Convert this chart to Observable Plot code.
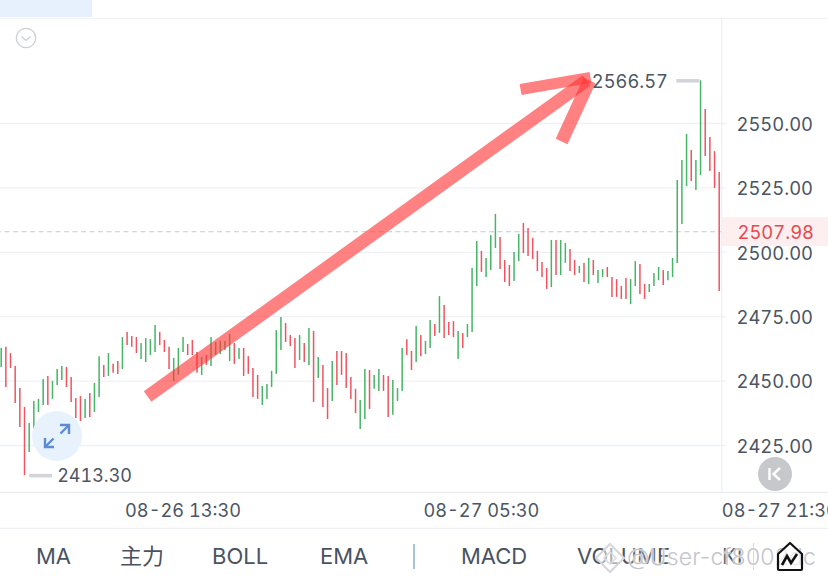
<!DOCTYPE html>
<html><head><meta charset="utf-8">
<script src="https://cdn.jsdelivr.net/npm/d3@7"></script>
<script src="https://cdn.jsdelivr.net/npm/@observablehq/plot@0.6"></script>
<style>
html,body{margin:0;padding:0;background:#fff;width:828px;height:584px;overflow:hidden}
#wrap{position:relative;width:828px;height:584px;overflow:hidden;font-family:Inter,"Noto Sans CJK SC",sans-serif}
#wrap>svg,#chart svg{display:block}
.abs{position:absolute}
.tab{position:absolute;top:542px;font-size:22px;line-height:28px;color:#4a5361;white-space:nowrap}
</style></head><body>
<div id="wrap">
<div id="chart"></div>
<div class="abs" style="left:0;top:0;width:92px;height:17px;background:#e6f1fd"></div>
<svg class="abs" style="left:14px;top:27px" width="24" height="24" viewBox="0 0 24 24"><circle cx="12" cy="11" r="9.7" fill="#fff" stroke="#cdd0d6" stroke-width="1.3"/><path d="M7.5 9.5 L12 13.5 L16.5 9.5" fill="none" stroke="#cdd0d6" stroke-width="1.3"/></svg>
<svg class="abs" style="left:32px;top:410px" width="50" height="52" viewBox="0 0 50 52"><circle cx="25" cy="26" r="25" fill="#e8f2fd"/><path d="M28 15 H37 V24 M37 15 L28.5 23.5 M13 28 V37 H22 M13 37 L21.5 28.5" fill="none" stroke="#5b8bd6" stroke-width="2.4"/></svg>
<svg class="abs" style="left:758px;top:457px" width="34" height="34" viewBox="0 0 34 34"><circle cx="17" cy="17" r="17" fill="#c6c8cc"/><path d="M11.5 11 V23 M22 11 L15.5 17 L22 23" fill="none" stroke="#fff" stroke-width="2.4"/></svg>
<span class="tab" style="left:36px">MA</span>
<span class="tab" style="left:120px;top:540px;font-family:'Noto Sans CJK SC'">主力</span>
<span class="tab" style="left:212px">BOLL</span>
<span class="tab" style="left:320px">EMA</span>
<div class="abs" style="left:413px;top:544px;width:1.5px;height:25px;background:#a9c2df"></div>
<span class="tab" style="left:461px">MACD</span>
<span class="tab" style="left:577px">VOLUME</span>
<span class="tab" style="left:722px">KI</span>
<div class="abs" style="left:753px;top:543px;width:1px;height:27px;background:#d5d8dd"></div>
<svg class="abs" style="left:593px;top:541px" width="34" height="34" viewBox="0 0 34 34"><path d="M17 3 L31 17 L17 31 L3 17 Z" fill="#fff" fill-opacity=".55" stroke="#d6d7da" stroke-width="2"/><path d="M17 11 L23 17 L17 23 L11 17 Z" fill="none" stroke="#dcdde0" stroke-width="1.6"/></svg>
<span class="abs" style="left:627px;top:543px;font-size:23px;line-height:28px;color:#c3c6cb;white-space:nowrap;letter-spacing:.2px;font-weight:300;text-shadow:0 0 2px #fff,0 0 2px #fff">@User-cf8002dc</span>
<svg class="abs" style="left:776px;top:541px" width="28" height="31" viewBox="0 0 28 31"><path d="M14 2 L26 13 V28 Q26 29 25 29 H3 Q2 29 2 28 V13 Z" fill="#fff" fill-opacity=".6" stroke="#111" stroke-width="2.2" stroke-linejoin="round"/><path d="M6 24 L11 15 L15 22 L21 13" fill="none" stroke="#111" stroke-width="2.6"/></svg>
</div>
<script>
const highs = [2462.7,2463.1,2460.7,2455.7,2447.1,2439.8,2433.5,2442.1,2442.9,2450.6,
2451.8,2449.9,2454.5,2455.7,2455.3,2451.4,2443.2,2444.0,2442.9,2445.2,
2449.1,2459.5,2456.1,2460.7,2456.5,2457.6,2466.9,2468.9,2467.3,2466.9,
2464.6,2466.5,2466.1,2471.6,2468.9,2465.8,2463.1,2458.8,2462.7,2466.9,
2464.2,2465.8,2461.1,2459.2,2459.9,2466.9,2465.0,2465.4,2465.4,2468.1,
2464.6,2462.7,2462.7,2459.5,2454.9,2452.2,2447.9,2448.7,2453.8,2469.6,
2474.7,2472.4,2467.7,2466.5,2467.7,2464.6,2470.4,2469.3,2459.2,2456.1,
2447.1,2457.6,2461.5,2461.5,2460.7,2451.4,2446.8,2442.5,2454.5,2454.1,
2452.2,2454.5,2452.2,2451.8,2450.2,2447.1,2462.7,2466.1,2461.5,2471.2,
2467.7,2465.4,2473.5,2472.0,2482.8,2479.3,2472.7,2473.1,2469.3,2468.5,
2472.0,2493.7,2504.2,2500.3,2497.6,2506.5,2514.7,2505.7,2496.8,2494.9,
2499.9,2506.9,2511.2,2509.2,2505.4,2500.3,2496.0,2493.7,2504.6,2504.6,
2504.6,2503.4,2501.1,2496.8,2494.5,2495.7,2497.6,2496.8,2492.9,2493.3,
2494.1,2490.2,2489.4,2486.7,2489.8,2489.4,2496.4,2495.3,2487.5,2487.5,
2491.8,2494.1,2492.9,2492.5,2497.6,2527.9,2535.6,2545.7,2539.5,2535.6,
2566.57,2555.4,2544.6,2539.1,2531.0];
const lows = [2455.3,2447.5,2454.9,2441.3,2432.0,2413.3,2422.3,2431.2,2437.8,2440.5,
2440.5,2442.9,2448.3,2450.2,2447.5,2441.7,2435.5,2434.3,2435.5,2435.9,
2437.8,2443.6,2451.4,2451.8,2453.0,2452.6,2454.5,2463.8,2463.1,2460.7,
2458.4,2457.2,2459.9,2461.1,2463.8,2461.1,2454.5,2449.9,2452.2,2461.1,
2459.9,2459.9,2453.0,2452.2,2456.1,2455.7,2459.9,2460.3,2461.9,2457.6,
2456.5,2458.4,2451.8,2452.6,2443.6,2442.9,2440.5,2442.9,2447.5,2452.6,
2461.9,2465.0,2463.4,2454.9,2458.0,2457.2,2456.1,2441.7,2451.0,2439.8,
2435.1,2442.1,2448.3,2452.2,2447.1,2442.9,2437.4,2431.2,2435.1,2439.0,
2446.8,2446.0,2446.0,2435.9,2436.7,2442.1,2446.0,2459.9,2454.1,2457.2,
2459.5,2460.3,2462.7,2467.3,2468.5,2466.5,2467.7,2466.9,2458.4,2462.7,
2466.9,2468.9,2486.7,2492.2,2490.2,2492.9,2501.5,2493.3,2488.3,2486.7,
2488.7,2496.4,2499.5,2498.4,2497.2,2492.5,2490.2,2485.6,2486.3,2491.0,
2491.0,2495.7,2492.5,2491.0,2491.8,2488.3,2487.5,2491.0,2487.9,2490.2,
2490.2,2482.5,2482.5,2481.7,2481.7,2479.7,2486.7,2483.6,2481.7,2484.4,
2486.7,2489.0,2487.1,2489.0,2490.2,2495.7,2510.8,2525.5,2527.5,2524.0,
2529.8,2537.2,2531.4,2524.8,2484.8];
const dirs = ("grrrrrgggg"+"rgggrrrrgr"+"ggrgrrgrrr"+"ggggrrrggg"+"rrrgrggggg"+
"rgrrrrgggg"+"grrrgrgrgr"+"rgrrrrrggr"+"ggrrgggrrg"+"rggrgrrrgr"+
"gggrgggrrr"+"ggrrrrrrgr"+"ggrrgrgrgg"+"rrrrrggrrg"+"ggrgggggrg"+"grrrr").split("");
const yTicks = [2550,2525,2500,2475,2450,2425];
const xTickIndex = [39,103,167];
const xTickLabels = ["08-26 13:30","08-27 05:30","08-27 21:30"];
const lastPrice = 2507.98;
const highLabel = "2566.57";
const lowLabel = "2413.30";

const bars = highs.map((h,i)=>({i,h,l:lows[i],d:dirs[i]}));
const arrowShaft = [{x:31.4,y:2444.0},{x:125.55,y:2566.7}];
const arrowWingA = [{x:111.4,y:2563.2},{x:126.4,y:2567.9}];
const arrowWingB = [{x:120.2,y:2543.0},{x:126.2,y:2566.7}];
const textColor = "#4b5563", grid = "#eef2f8";
const arrowStyle = w => ({x:"x",y:"y",stroke:"#ff3333",strokeWidth:w,strokeLinecap:"butt",opacity:0.62,curve:"linear"});

const chart = Plot.plot({
  width:828,height:584,
  marginLeft:0,marginTop:0,marginRight:107,marginBottom:92,
  style:{fontFamily:"Inter, sans-serif",background:"#fff",fontSize:"18px"},
  x:{type:"linear",domain:[0,154],range:[0.7,718.7]},
  y:{type:"linear",domain:[2550,2425],range:[123,445]},
  marks:[
    Plot.ruleY(yTicks,{x1:-1,x2:155.6,stroke:grid,strokeWidth:1.3}),
    Plot.ruleY([2590.8],{x1:-1,x2:178,stroke:"#f1f3f6",strokeWidth:1.2}),
    Plot.ruleY([2406.8],{x1:-1,x2:178,stroke:"#e9edf3",strokeWidth:1.2}),
    Plot.ruleY([2392.8],{x1:-1,x2:178,stroke:"#eef0f4",strokeWidth:1.2}),
    Plot.ruleX([154.55],{y1:2590.8,y2:2406.8,stroke:"#e9eef6",strokeWidth:1.2}),
    Plot.rect([0],{x1:154.7,x2:178,y1:2513.4,y2:2502.2,fill:"#fdefef"}),
    Plot.ruleY([lastPrice],{x1:-1,x2:154.55,stroke:"#c5c9d0",strokeWidth:1.2,strokeDasharray:"5 3.5"}),
    Plot.ruleX(bars,{x:"i",y1:"h",y2:"l",stroke:d=>d.d==="g"?"#46b566":"#ee5560",strokeWidth:1.5}),
    Plot.ruleY([2566.57],{x1:144.9,x2:149.9,stroke:"#d3d4d8",strokeWidth:3.5}),
    Plot.ruleY([2413.3],{x1:6.1,x2:11,stroke:"#d3d4d8",strokeWidth:3.5}),
    Plot.text([highLabel],{x:143,y:[2566.57],dy:1,text:d=>d,textAnchor:"end",fill:textColor,fontSize:18.3,fontVariant:"tabular-nums"}),
    Plot.text([lowLabel],{x:12,y:[2413.3],dy:1,text:d=>d,textAnchor:"start",fill:textColor,fontSize:18,fontVariant:"tabular-nums"}),
    Plot.axisY({anchor:"right",ticks:yTicks,tickFormat:d=>d.toFixed(2),tickSize:0,tickPadding:15,dy:1.5,fontSize:18.4,fill:textColor,label:null}),
    Plot.axisY({anchor:"right",ticks:[lastPrice],tickFormat:d=>d.toFixed(2),tickSize:0,tickPadding:16,dy:1,fontSize:18.4,fill:"#e8474f",label:null}),
    Plot.axisX({anchor:"bottom",ticks:xTickIndex,tickFormat:d=>xTickLabels[xTickIndex.indexOf(d)],tickSize:0,tickPadding:10,dy:2,fontSize:18.2,fill:textColor,label:null}),
    Plot.line(arrowShaft,arrowStyle(13)),
    Plot.line(arrowWingA,arrowStyle(11)),
    Plot.line(arrowWingB,arrowStyle(13))
  ]
});
document.getElementById("chart").appendChild(chart);
</script>
</body></html>
